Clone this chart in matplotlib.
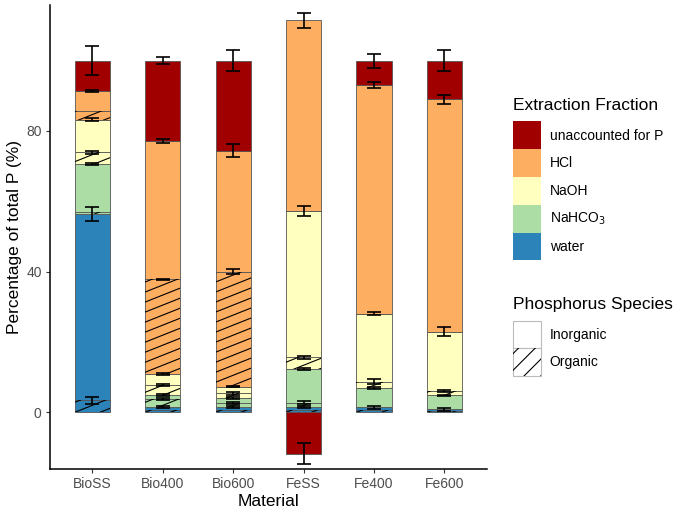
import numpy as np
import matplotlib.pyplot as plt
from matplotlib.patches import Patch, Rectangle
from matplotlib.legend_handler import HandlerTuple

plt.rcParams['font.family'] = ['Liberation Sans', 'DejaVu Sans']
plt.rcParams['hatch.linewidth'] = 0.8

materials = ["BioSS", "Bio400", "Bio600", "FeSS", "Fe400", "Fe600"]

# % of total P, organic part stacked below inorganic part of each fraction
water_org    = [3.5, 0.8, 0.7, 0.7, 0.7, 0.4]
water_inorg  = [52.9, 0.8, 0.7, 0.7, 0.7, 0.5]
nahco3_org   = [0.5, 2.1, 1.3, 1.3, 0.0, 0.0]
nahco3_inorg = [13.7, 1.2, 1.3, 9.7, 5.4, 3.9]
naoh_org     = [3.3, 2.9, 1.4, 3.2, 1.9, 1.3]
naoh_inorg   = [9.3, 3.1, 1.9, 41.7, 19.4, 16.8]
hcl_org      = [2.4, 26.9, 32.7, 0.0, 0.0, 0.0]
hcl_inorg    = [5.7, 39.3, 34.4, 54.2, 65.0, 66.1]
unaccounted  = [8.7, 22.9, 25.6, -11.7, 6.9, 11.0]

# error at the top of each segment
err_water_org    = [1.0, 0.0, 0.0, 0.0, 0.0, 0.0]
err_water_inorg  = [1.9, 0.3, 0.3, 0.3, 0.4, 0.4]
err_nahco3_org   = [0.0, 0.3, 0.3, 0.4, 0.0, 0.0]
err_nahco3_inorg = [0.3, 0.3, 0.3, 0.3, 0.3, 0.2]
err_naoh_org     = [0.5, 0.4, 0.4, 0.5, 0.7, 0.3]
err_naoh_inorg   = [0.5, 0.2, 0.2, 1.5, 0.3, 1.3]
err_hcl_org      = [0.0, 0.2, 0.7, 0.0, 0.0, 0.0]
err_hcl_inorg    = [0.2, 0.5, 1.9, 2.1, 0.8, 1.3]
err_unaccounted  = [4.2, 1.0, 3.1, 3.0, 2.0, 2.9]

col_water = "#2B83BA"
col_nahco3 = "#ABDDA4"
col_naoh = "#FFFFBF"
col_hcl = "#FDAE61"
col_unacc = "#A00000"

segments = [
    (water_org, err_water_org, col_water, True),
    (water_inorg, err_water_inorg, col_water, False),
    (nahco3_org, err_nahco3_org, col_nahco3, True),
    (nahco3_inorg, err_nahco3_inorg, col_nahco3, False),
    (naoh_org, err_naoh_org, col_naoh, True),
    (naoh_inorg, err_naoh_inorg, col_naoh, False),
    (hcl_org, err_hcl_org, col_hcl, True),
    (hcl_inorg, err_hcl_inorg, col_hcl, False),
]

fig = plt.figure(figsize=(6.8, 5.11), dpi=100)
ax = fig.add_axes([50/680, 42/511, 436.7/680, 464/511])
ax.set_xlim(-0.6, 5.6)
ax.set_ylim(-16.1, 115.8)

x = np.arange(len(materials))
w = 0.5
slope = 7.96   # hatch slope in data units
gap = 2.85


def hatch_rect(x0, x1, y0, y1):
    clip = Rectangle((x0, y0), x1 - x0, y1 - y0, facecolor='none', edgecolor='none')
    ax.add_patch(clip)
    start = np.floor((y0 - slope * (x1 - x0)) / gap) * gap
    for c in np.arange(start, y1 + gap, gap):
        ln, = ax.plot([x0, x1], [c, c + slope * (x1 - x0)], color='black', lw=0.8, zorder=3)
        ln.set_clip_path(clip)


bottom = np.zeros(len(materials))
err_x, err_y, err_e = [], [], []
for vals, errs, col, organic in segments:
    vals = np.array(vals)
    ax.bar(x, vals, w, bottom=bottom, color=col, edgecolor='#555555', linewidth=0.6, zorder=2)
    for i in range(len(x)):
        if organic and vals[i] > 0:
            hatch_rect(x[i] - w/2, x[i] + w/2, bottom[i], bottom[i] + vals[i])
        if errs[i] > 0:
            err_x.append(x[i]); err_y.append(bottom[i] + vals[i]); err_e.append(errs[i])
    bottom = bottom + vals

unacc = np.array(unaccounted)
unacc_bottom = np.where(unacc > 0, bottom, 0)
ax.bar(x, unacc, w, bottom=unacc_bottom, color=col_unacc, edgecolor='#555555', linewidth=0.6, zorder=2)
for i in range(len(x)):
    err_x.append(x[i]); err_y.append(unacc_bottom[i] + unacc[i]); err_e.append(err_unaccounted[i])

ax.errorbar(err_x, err_y, yerr=err_e, fmt='none', ecolor='black', elinewidth=1.2,
            capsize=5, capthick=1.2, zorder=4)

for s in ['top', 'right']:
    ax.spines[s].set_visible(False)
for s in ['left', 'bottom']:
    ax.spines[s].set_linewidth(1.1)
ax.set_yticks([0, 40, 80])
ax.set_xticks(x)
ax.set_xticklabels(materials)
ax.tick_params(length=3, width=0.8, color='#333333', labelsize=10, labelcolor='#4D4D4D', pad=3)
ax.set_xlabel("Material", fontsize=12.5, labelpad=2)
ax.set_ylabel("Percentage of total P (%)", fontsize=12.5, labelpad=3)

# legends (titles as separate text for spacing control)
fig.text(513/680, 1 - 105/511, "Extraction Fraction", fontsize=12.5, va='center', ha='left')
frac_handles = [Patch(facecolor=c, edgecolor='none') for c in
                [col_unacc, col_hcl, col_naoh, col_nahco3, col_water]]
frac_labels = ["unaccounted for P", "HCl", "NaOH", "NaHCO$_3$", "water"]
leg1 = fig.legend(frac_handles, frac_labels,
                  loc='upper left', bbox_to_anchor=(513/680, 1 - 121.5/511),
                  frameon=False, fontsize=10,
                  handlelength=2.0, handleheight=2.7, labelspacing=0, handletextpad=0.65,
                  borderpad=0, borderaxespad=0)

fig.text(513/680, 1 - 304/511, "Phosphorus Species", fontsize=12.5, va='center', ha='left')
inorg = Patch(facecolor='white', edgecolor='#BBBBBB', linewidth=0.8)
org = (Patch(facecolor='white', edgecolor='#BBBBBB', linewidth=0.8),
       Patch(facecolor='none', edgecolor='black', linewidth=0, hatch='//'))
leg2 = fig.legend([inorg, org], ["Inorganic", "Organic"],
                  handler_map={tuple: HandlerTuple(ndivide=1, pad=0)},
                  loc='upper left', bbox_to_anchor=(513/680, 1 - 320.5/511),
                  frameon=False, fontsize=10,
                  handlelength=2.0, handleheight=2.7, labelspacing=0, handletextpad=0.65,
                  borderpad=0, borderaxespad=0)

fig.savefig("out.png", dpi=100)
